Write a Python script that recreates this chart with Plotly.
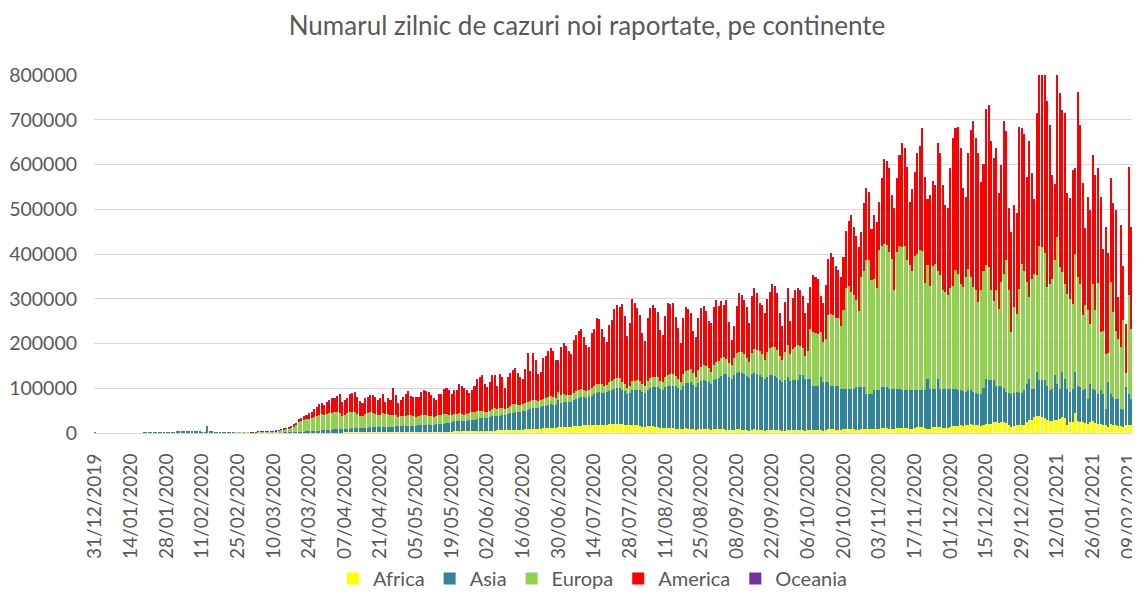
import pandas as pd
import plotly.graph_objects as go

# ---------------- DATA (daily new cases, in thousands) ----------------
start_date = "2019-12-31"

tick_labels = ["31/12/2019", "14/01/2020", "28/01/2020", "11/02/2020", "25/02/2020",
               "10/03/2020", "24/03/2020", "07/04/2020", "21/04/2020", "05/05/2020",
               "19/05/2020", "02/06/2020", "16/06/2020", "30/06/2020", "14/07/2020",
               "28/07/2020", "11/08/2020", "25/08/2020", "08/09/2020", "22/09/2020",
               "06/10/2020", "20/10/2020", "03/11/2020", "17/11/2020", "01/12/2020",
               "15/12/2020", "29/12/2020", "12/01/2021", "26/01/2021", "09/02/2021"]

africa_k = [
    0, 0, 0, 0, 0, 0, 0, 0, 0, 0, 0, 0, 0, 0, 0, 0, 0, 0, 0, 0,
    0, 0, 0, 0, 0, 0, 0, 0, 0, 0, 0, 0, 0, 0, 0, 0, 0, 0, 0, 0,
    0, 0, 0, 0, 0, 0, 0, 0, 0, 0, 0, 0, 0, 0, 0, 0, 0, 0, 0, 0,
    0, 0, 0, 0, 0, 0, 0, 0, 0, 0,
    0.05, 0.05, 0.1, 0.1, 0.1, 0.1, 0.15, 0.2, 0.2, 0.25,
    0.3, 0.3, 0.4, 0.4, 0.5, 0.5, 0.5, 0.6, 0.7, 0.6, 0.6, 0.8,
    0.9, 1.0, 1.0, 1.1, 1.1, 1.0, 1.2, 1.2, 1.3, 1.3, 1.4, 1.3, 1.2, 1.3, 1.4, 1.5,
    1.5, 1.5, 1.4, 1.4, 1.5, 1.6, 1.6, 1.7, 1.7, 1.8, 1.8, 1.7, 1.9, 2.0, 2.1, 2.2,
    2.2, 2.1, 2.0, 2.3, 2.5, 2.6, 2.6, 2.7, 2.6, 2.6, 2.8, 3.0, 3.1, 3.2, 3.2, 3.1,
    3.3, 3.4, 3.5, 3.6, 3.7, 3.8, 3.9, 4.0, 4.0, 4.1,
    4.3, 4.5, 4.6, 4.8, 5.0, 5.1, 5.3, 5.5, 5.6, 5.8,
    6.0, 6.2, 6.4, 6.6, 6.8, 7.0, 7.2, 7.5, 7.8, 8.0,
    8.3, 8.6, 9.0, 9.3, 9.6, 10, 10.3, 10.6, 11, 11.3,
    11.6, 12, 12.5, 13, 13.5, 14, 14.2, 14.5, 15, 15.5,
    16, 16.5, 16.8, 17, 17.2, 17.5, 18, 18, 18.5, 18.5,
    19, 19, 19.5, 20, 20, 20.5, 20.5,
    20, 19, 17, 18, 19, 18, 17, 16, 14, 13,
    15, 16, 15, 14, 13, 11, 11, 12, 12, 12,
    11, 10, 9, 8, 10, 11, 10, 10, 8, 7,
    9, 10, 10, 9, 8, 7, 9, 9, 9, 8,
    8, 7, 6, 6, 7, 8, 8, 7, 7, 6,
    5, 7, 8, 7, 7, 6, 5, 6, 7, 7,
    7, 6, 6, 5, 5, 6, 6,
    6, 7, 7, 7, 6, 5, 6, 7, 7, 7,
    7, 6, 5, 7, 8, 8, 8, 7, 6, 6,
    8, 9, 9, 9, 8, 7, 7, 9, 10, 10,
    10, 9, 8, 8, 10, 11, 11, 11, 10, 8,
    8, 11, 12, 12, 12, 11, 9, 9, 12, 13,
    13, 13, 11, 10, 10, 13, 14, 14, 14, 12,
    11, 11, 14, 15, 15, 15,
    18, 16, 17, 19, 20, 19, 18, 17, 16, 19,
    20, 21, 20, 24, 25, 22, 24, 25, 23, 17,
    14, 16, 18, 19, 18, 17, 25, 30, 28, 36,
    38, 39, 36, 34, 28, 26, 27, 30, 28, 32,
    36, 34, 19, 24, 25, 45, 27, 25, 24, 22,
    21, 25, 26, 22, 21, 20, 19, 18, 14, 20,
    19, 17, 16, 15, 13, 18, 19, 17, 16, 12,
    15,
]

asia_k = [
    0.03, 0, 0, 0, 0, 0, 0, 0, 0, 0, 0, 0, 0, 0, 0, 0, 0, 0, 0,
    0.1, 0.08, 0.15, 0.13, 0.26, 0.46, 0.69, 0.77, 1.77, 1.46,
    1.74, 1.98, 2.1, 2.59, 2.83, 3.24, 3.88, 3.69, 3.14, 3.39,
    2.65, 2.98, 2.47, 2.02, 2.0, 15.1, 4.16, 2.54, 2.01, 2.05,
    1.89, 1.75, 0.39, 0.89, 0.8, 0.65, 0.6, 0.6, 0.9, 0.8,
    1.1, 0.9,
    1.2, 1.3, 1.0, 1.2, 1.3, 1.2, 1.3, 1.2, 0.9, 0.8, 0.8, 0.8, 1.0, 1.2, 1.3, 1.4,
    1.5, 1.6, 1.8, 2.2, 2.5, 2.8, 3.0, 3.2, 3.5, 3.8, 4.0, 4.5, 5.0, 5.3, 5.5,
    6, 6.5, 7, 7, 7.5, 7, 8, 8, 8.5, 9,
    9.5, 9, 9, 9, 10, 10, 11, 11, 11, 11,
    11, 12, 12, 12, 12, 12, 13, 13, 13, 13,
    13, 14, 14, 14, 14, 15, 15, 15, 15, 15,
    16, 16, 17, 17, 18, 18, 19, 19,
    22, 23, 23, 24, 23, 22, 24, 25, 26, 26,
    28, 29, 30, 29, 28, 30, 32, 33, 32, 33,
    34, 34, 35, 37, 39, 40, 39, 40, 41, 42,
    44, 45, 46, 47, 46, 47, 49, 50, 52, 53,
    52, 51, 62, 54, 55, 55, 54, 55, 58, 60,
    62, 64, 63, 61, 63, 66, 69, 72, 73, 72,
    71, 72, 75, 77, 79, 80, 81,
    75, 74, 70, 72, 78, 78, 80, 80, 78, 76,
    82, 84, 88, 89, 90, 88, 86, 90, 93, 94,
    95, 94, 92, 88, 95, 100, 102, 103, 100, 96,
    102, 106, 108, 108, 107, 103, 110, 112, 113, 120,
    124, 125, 120, 115, 122, 127, 128, 126, 125, 122,
    117, 124, 127, 124, 122, 120, 115, 119, 122, 122,
    120, 118, 112, 108, 114, 120, 110,
    112, 111, 111, 122, 123, 116, 115, 114, 99, 99,
    99, 119, 109, 107, 106, 98, 98, 99, 100, 93,
    91, 90, 90, 90, 91, 96, 96, 94, 93, 78,
    78, 79, 87, 87, 85, 92, 92, 92, 89, 91,
    91, 88, 87, 83, 83, 84, 86, 86, 83, 82,
    82, 82, 84, 111, 89, 86, 85, 107, 85, 87,
    88, 88, 85, 84, 84, 80,
    77, 77, 75, 76, 75, 73, 72, 71, 72, 81,
    101, 97, 98, 94, 81, 84, 82, 75, 69, 73,
    74, 74, 74, 71, 72, 78, 85, 91, 71, 63,
    98, 79, 82, 84, 78, 69, 72, 99, 82, 67,
    100, 86, 80, 68, 74, 91, 78, 78, 71, 77,
    56, 85, 73, 73, 67, 75, 69, 36, 100, 68,
    61, 60, 61, 39, 38, 85, 69, 60, 57, 50,
    65,
]

europa_k = [
    0, 0, 0, 0, 0, 0, 0, 0, 0, 0, 0, 0, 0, 0, 0, 0, 0, 0, 0, 0,
    0, 0, 0, 0, 0, 0, 0, 0, 0, 0, 0, 0, 0, 0, 0, 0, 0, 0, 0, 0,
    0, 0, 0, 0, 0, 0, 0, 0, 0, 0, 0, 0, 0, 0, 0,
    0.2, 0.1, 0.3, 0.4, 0.6, 0.7,
    0.8, 0.8, 0.9, 1.2, 1.4, 1.6, 2.0, 2.1, 2.7, 2.9, 3.2, 4.5, 6.5, 7.5, 8.0, 9.5,
    11, 13, 16, 22, 24, 26, 27, 28, 29, 31, 33, 36, 37, 34, 36,
    37, 38, 38, 39, 37, 30, 31, 35, 37, 36,
    36, 32, 28, 27, 32, 34, 34, 33, 31, 27,
    28, 30, 28, 29, 26, 27, 25, 21, 22, 24,
    24, 25, 23, 21, 19, 21, 22, 23, 22, 21,
    19, 18, 19, 20, 20, 21, 20, 18,
    16, 17, 16, 16, 15, 14, 15, 16, 16, 16,
    17, 16, 15, 14, 13, 15, 16, 17, 16, 17,
    16, 14, 15, 17, 18, 18, 17, 16, 15, 17,
    18, 18, 19, 18, 16, 16, 17, 18, 18, 18,
    17, 15, 18, 18, 18, 17, 16, 15, 17, 18,
    18, 18, 17, 15, 15, 17, 18, 19, 19, 18,
    16, 17, 19, 20, 21, 22, 22,
    20, 17, 14, 15, 20, 21, 21, 20, 17, 15,
    20, 22, 23, 23, 22, 18, 17, 23, 25, 26,
    26, 24, 20, 19, 26, 28, 29, 29, 25, 22,
    29, 32, 33, 33, 30, 26, 34, 38, 40, 40,
    38, 34, 31, 30, 38, 43, 46, 47, 45, 40,
    36, 47, 52, 55, 54, 50, 44, 55, 60, 64,
    65, 62, 55, 50, 62, 70, 60,
    70, 75, 78, 65, 60, 50, 62, 112, 120, 118,
    115, 100, 90, 95, 150, 160, 158, 150, 150, 140,
    175, 225, 230, 215, 210, 195, 170, 245, 260, 298,
    298, 255, 250, 230, 315, 315, 320, 318, 305, 290,
    220, 305, 318, 320, 322, 292, 280, 268, 300, 305,
    315, 312, 240, 255, 230, 275, 278, 240, 255, 220,
    215, 210, 225, 230, 265, 261,
    239, 233, 256, 272, 253, 234, 229, 205, 231, 263,
    254, 252, 201, 178, 213, 172, 231, 256, 294, 229,
    138, 191, 174, 232, 288, 268, 227, 183, 246, 257,
    216, 301, 297, 284, 220, 238, 246, 257, 328, 272,
    224, 213, 212, 208, 190, 265, 243, 231, 168, 186,
    197, 134, 235, 179, 247, 131, 141, 123, 65, 249,
    190, 152, 134, 138, 201, 30, 220, 156, 138, 85,
    172,
]

america_k = [
    0, 0, 0, 0, 0, 0, 0, 0, 0, 0, 0, 0, 0, 0, 0, 0, 0, 0, 0, 0,
    0, 0, 0, 0, 0, 0, 0, 0, 0, 0, 0, 0, 0, 0, 0, 0, 0, 0, 0, 0,
    0, 0, 0, 0, 0, 0, 0, 0, 0, 0, 0, 0, 0, 0, 0, 0, 0, 0, 0, 0,
    0,
    0.02, 0.03, 0.03, 0.05, 0.08, 0.1, 0.15, 0.1, 0.2, 0.3, 0.4, 0.5, 0.8, 0.9, 1.0, 1.5,
    2.0, 3.0, 3.5, 5, 6, 7, 9, 11, 12, 16, 20, 22, 23, 21, 26,
    29.1, 31.5, 31, 34.9, 40.4, 31, 32.8, 32.8, 39.2, 41.7,
    43.1, 37.7, 32.8, 29.7, 33.6, 34.5, 37.5, 37.5, 36.6, 33.6,
    36.5, 42.4, 27.4, 35.3, 33.3, 59.2, 44.2, 30.3, 36.1, 40,
    46.9, 51.8, 42.8, 42.9, 44, 40.7, 50.5, 54.4, 52.4, 53.3,
    46.4, 40.4, 34.2, 46, 44.9, 55.8, 56.8, 54.9,
    46.7, 51.6, 52.5, 65.4, 63.3, 60.2, 52.1, 44, 49, 56.9,
    69.7, 74.5, 79.4, 61.2, 55, 61.9, 75.7, 73.5, 49.4, 74.2,
    69, 44.8, 68.6, 73.4, 76.2, 79, 70.8, 59.5, 56.2, 74,
    106.7, 66.4, 103, 87.7, 59.4, 63, 89.7, 92.4, 100, 105.7,
    100.4, 83, 68.5, 107, 114.5, 107, 96.8, 91.5, 117, 123.5,
    130, 132.5, 116.2, 103, 95.8, 122.5, 126, 146, 142.5, 122.5,
    107, 93, 125.5, 133, 156, 161.5, 157.5,
    172, 149, 113, 139, 181, 172, 160, 145, 113, 99,
    138, 156, 159, 152, 143, 112, 104, 136, 159, 154,
    157, 131, 112, 85, 124, 142, 135, 126, 93, 88,
    115, 130, 132, 121, 103, 108, 128, 137, 121, 125,
    115, 130, 91, 56, 70, 105, 129, 128, 119, 113,
    86, 127, 137, 125, 106, 108, 104, 119, 126, 139,
    136, 125, 95, 74, 110, 126, 74,
    112, 126, 126, 125, 115, 96, 106, 93, 126, 124,
    123, 79, 85, 121, 123, 136, 129, 115, 107, 109,
    119, 127, 143, 172, 151, 140, 142, 101, 149, 161,
    152, 113, 141, 145, 106, 150, 188, 186, 186, 142,
    182, 164, 203, 231, 218, 207, 139, 180, 186, 224,
    231, 273, 237, 145, 202, 187, 175, 287, 271, 233,
    194, 192, 266, 328, 316, 326,
    301, 220, 179, 258, 328, 369, 339, 332, 240, 237,
    349, 362, 333, 317, 317, 258, 261, 339, 287, 182,
    223, 227, 224, 361, 303, 304, 235, 347, 234, 165,
    363, 411, 430, 410, 415, 354, 231, 169, 367, 387,
    361, 382, 224, 225, 298, 189, 414, 353, 294, 171,
    253, 253, 286, 302, 255, 301, 181, 283, 221, 231,
    242, 268, 91, 272, 121, 109, 285, 227, 221, 101,
    160,
]

oceania_k = [
    0, 0, 0, 0, 0, 0, 0, 0, 0, 0, 0, 0, 0, 0, 0, 0, 0, 0, 0, 0,
    0, 0, 0, 0, 0, 0, 0, 0, 0, 0, 0, 0, 0, 0, 0, 0, 0, 0, 0, 0,
    0, 0, 0, 0, 0, 0, 0, 0, 0, 0, 0, 0, 0, 0, 0, 0, 0, 0, 0, 0,
    0, 0, 0, 0,
    0.01, 0.01, 0.02, 0.02, 0.03, 0.03, 0.05, 0.05, 0.07, 0.1,
    0.1, 0.15, 0.2, 0.2, 0.25, 0.3, 0.3, 0.4, 0.4, 0.45,
    0.5, 0.5, 0.45, 0.4, 0.4, 0.35, 0.3, 0.3,
    0.3, 0.3, 0.25, 0.2, 0.2, 0.15, 0.1, 0.1, 0.1, 0.08,
    0.06, 0.05, 0.05, 0.04, 0.03, 0.03, 0.03, 0.02, 0.02, 0.02,
    0.02, 0.02, 0.01, 0.01, 0.01, 0.01, 0.01, 0.01, 0.01, 0.01,
    0.02, 0.01, 0.02, 0.01, 0.01, 0.02, 0.01, 0.01, 0.02, 0.01,
    0.01, 0.02, 0.01, 0.01, 0.02, 0.01, 0.02, 0.02, 0.01, 0.02,
    0.02, 0.02, 0.03, 0.02, 0.02, 0.03, 0.03, 0.02, 0.03, 0.03,
    0.03, 0.02, 0.03, 0.03, 0.02, 0.02, 0.03, 0.03, 0.02, 0.03,
    0.03, 0.03, 0.04, 0.03, 0.03, 0.04, 0.04, 0.03, 0.04, 0.04,
    0.05, 0.05, 0.04, 0.05, 0.06, 0.05, 0.06, 0.07, 0.06, 0.07,
    0.08,
    0.07, 0.08, 0.1, 0.12, 0.1, 0.13, 0.15, 0.17, 0.2, 0.22,
    0.25, 0.24, 0.27, 0.3, 0.3, 0.35, 0.4, 0.38, 0.35, 0.42,
    0.45, 0.5, 0.48, 0.52, 0.55, 0.6, 0.55, 0.5, 0.62, 0.7, 0.65,
    0.6, 0.55, 0.5, 0.45, 0.42, 0.4, 0.38, 0.35, 0.3, 0.3,
    0.28, 0.25, 0.24, 0.22, 0.2, 0.18, 0.17, 0.15, 0.14, 0.13,
    0.12, 0.11, 0.1, 0.09, 0.08, 0.08, 0.07, 0.07, 0.06, 0.06, 0.05,
    0.05, 0.05, 0.04, 0.04, 0.04, 0.03, 0.04, 0.04, 0.03, 0.03,
    0.03, 0.03, 0.02, 0.03, 0.03, 0.02, 0.02, 0.02, 0.02, 0.02,
    0.02, 0.02, 0.02, 0.01, 0.02, 0.02, 0.02, 0.02, 0.02, 0.02,
    0.02, 0.02, 0.02, 0.02, 0.02, 0.02, 0.02, 0.02, 0.03, 0.02,
    0.02, 0.02, 0.02, 0.02, 0.03, 0.02, 0.02, 0.02, 0.02, 0.02,
    0.02, 0.02, 0.02, 0.02, 0.02, 0.02, 0.02, 0.02, 0.02, 0.02,
    0.01, 0.02, 0.02, 0.02, 0.02, 0.02, 0.01, 0.02, 0.02, 0.02,
    0.02, 0.02, 0.02, 0.02, 0.01, 0.02, 0.03, 0.02, 0.02, 0.02,
    0.02, 0.02, 0.02, 0.02, 0.02, 0.02, 0.01, 0.02, 0.02, 0.02,
    0.02, 0.02, 0.02, 0.02, 0.02, 0.02, 0.02, 0.02, 0.02, 0.02,
    0.02, 0.02, 0.02, 0.02, 0.02, 0.03, 0.03, 0.03, 0.03, 0.03,
    0.04, 0.04, 0.04, 0.03, 0.03, 0.03, 0.03, 0.03, 0.04, 0.04,
    0.04, 0.04, 0.05, 0.05, 0.05, 0.04, 0.04, 0.04, 0.04, 0.03,
    0.03, 0.03, 0.03, 0.03, 0.03, 0.03, 0.02, 0.02, 0.02, 0.02,
    0.02, 0.02, 0.02, 0.02, 0.02, 0.02, 0.02, 0.02, 0.02, 0.02,
    0.02, 0.02, 0.02, 0.02, 0.02, 0.02, 0.02, 0.02, 0.02, 0.02,
    0.02, 0.02, 0.02, 0.02, 0.02, 0.02,
]

series_names = ["Africa", "Asia", "Europa", "America", "Oceania"]
series_colors = ["#FFFF00", "#31849B", "#92D050", "#FF0000", "#7030A0"]
series_values = [africa_k, asia_k, europa_k, america_k, oceania_k]

lengths = [len(s) for s in series_values]
if len(set(lengths)) != 1:
    raise ValueError("length mismatch: %s" % lengths)

# ---------------- FIGURE ----------------
# The page body keeps the browser's default 8px margin, so the figure is
# sized 8px smaller than the window and every position is measured from (8, 8).
W, H = 1132, 590

dates = pd.date_range(start_date, periods=lengths[0], freq="D")
tick_dates = pd.to_datetime(tick_labels, format="%d/%m/%Y")

FONT = "Lato"
GREY = "#595959"

fig = go.Figure()
for name, vals, color in zip(series_names, series_values, series_colors):
    fig.add_trace(go.Bar(
        x=dates, y=[v * 1000 for v in vals], name=name,
        marker=dict(color=color, line=dict(width=0)),
    ))

half_day = pd.Timedelta(hours=12)
fig.update_layout(
    width=W, height=H,
    margin=dict(l=86, r=0, t=67, b=165, autoexpand=False),
    paper_bgcolor="white", plot_bgcolor="white",
    barmode="stack", bargap=0.2,
    font=dict(family=FONT, color=GREY, size=19),
    title=dict(text="Numarul zilnic de cazuri noi raportate, pe continente",
               font=dict(family=FONT, size=26, color=GREY),
               x=579 / W, xref="container", xanchor="center",
               y=1 - 18 / H, yref="container", yanchor="middle"),
    xaxis=dict(type="date", range=[dates[0] - half_day, dates[-1] + half_day],
               tickmode="array", tickvals=tick_dates, ticktext=tick_labels,
               tickangle=-90, tickfont=dict(family=FONT, size=19, color=GREY),
               showgrid=False, showline=True, linecolor="#D9D9D9", linewidth=1,
               ticks="", ticklabelstandoff=12, zeroline=False),
    yaxis=dict(range=[0, 800000], dtick=100000, tickformat="d",
               tickfont=dict(family=FONT, size=19.5, color=GREY),
               showgrid=True, gridcolor="#D9D9D9", gridwidth=1,
               zeroline=False, showline=False, ticks="", ticklabelstandoff=16),
    legend=dict(orientation="h", x=0.477, xanchor="center",
                y=0, yref="container", yanchor="bottom",
                font=dict(family=FONT, size=20, color=GREY),
                traceorder="normal", itemclick=False),
    showlegend=True,
)

fig.write_html("out.html")
